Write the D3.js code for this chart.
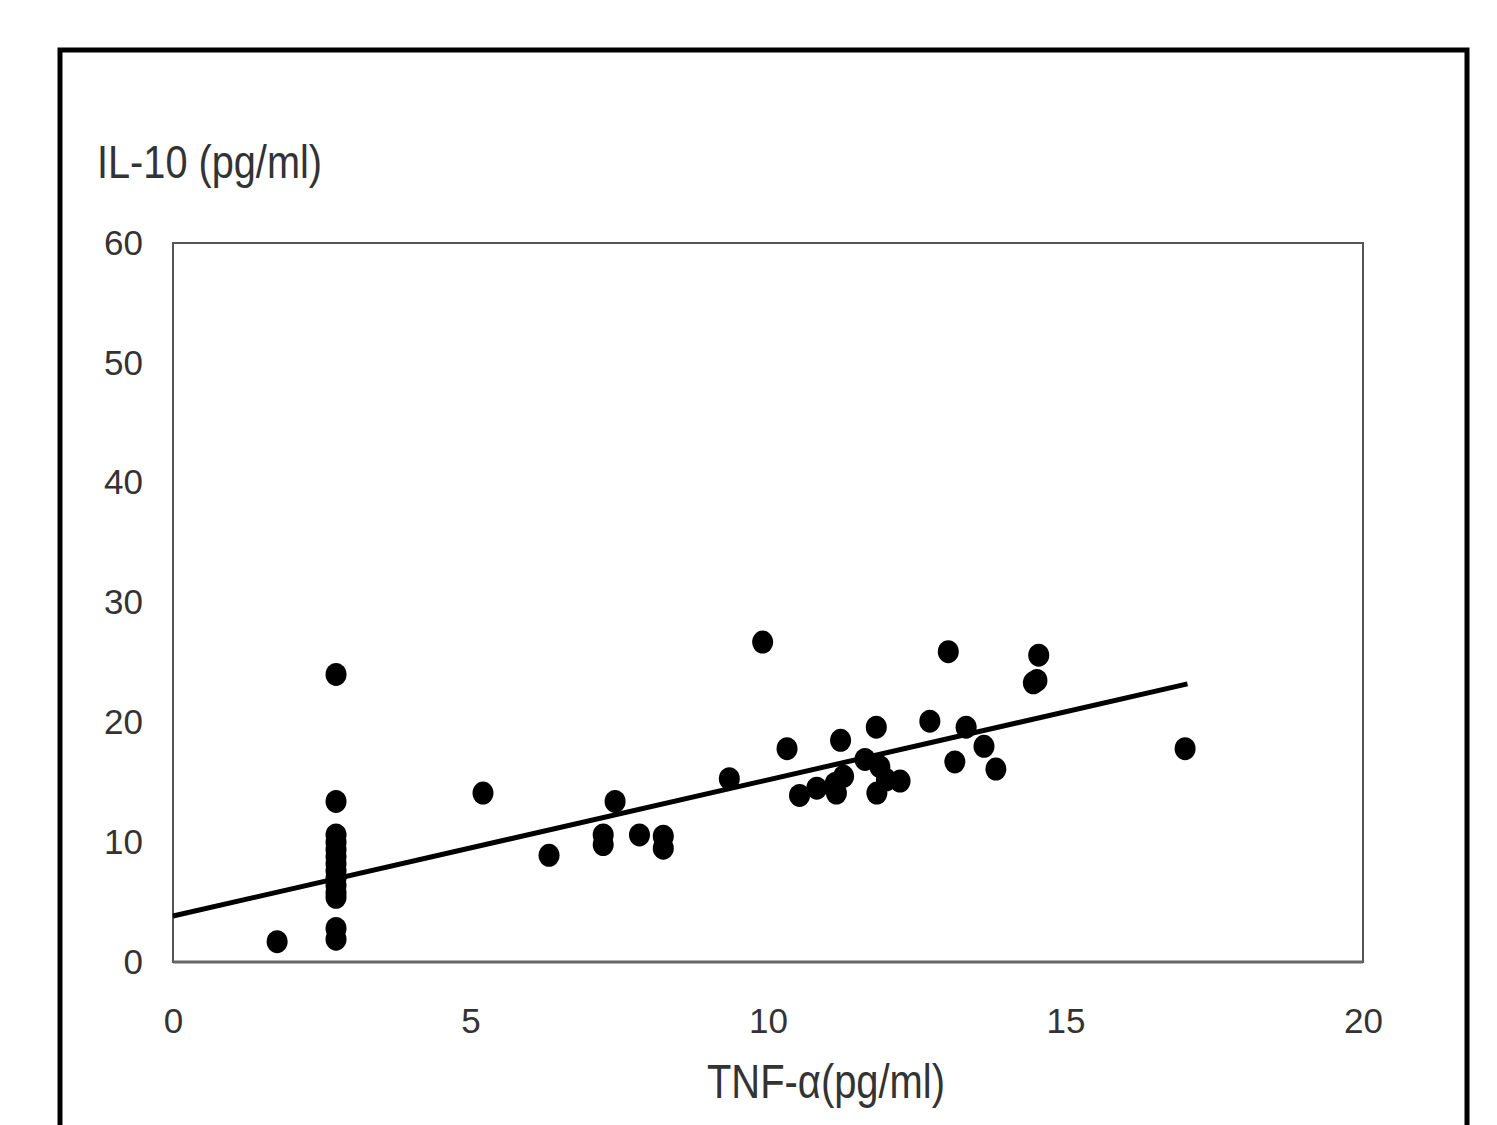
<!DOCTYPE html>
<html>
<head>
<meta charset="utf-8">
<script src="https://cdn.jsdelivr.net/npm/d3@7"></script>
<style>
  body { margin: 0; background: #fff; }
  text { font-family: "Liberation Sans", Arial, sans-serif; fill: #333; }
</style>
</head>
<body>
<div id="chart"></div>
<script>
// TNF-α values (x) and IL-10 values (y)
const tnf = [1.75, 2.74, 2.74, 2.74, 2.74, 2.74, 2.74, 2.74, 2.74, 2.74, 2.74, 2.74, 2.74, 2.74, 2.74,
  5.21, 6.32, 7.43, 7.23, 7.23, 7.84, 8.24, 8.24, 9.35,
  9.91, 10.32, 10.53, 10.82, 11.13, 11.15, 11.27, 11.22, 11.63, 11.82, 11.83, 11.88, 11.99, 12.22,
  12.72, 13.03, 13.14, 13.33, 13.63, 13.83, 14.46, 14.52, 14.55, 17.01];
const il10 = [1.7, 24.0, 13.4, 10.6, 10.0, 9.4, 8.8, 8.2, 7.6, 7.0, 6.4, 5.8, 5.4, 2.8, 1.9,
  14.1, 8.9, 13.4, 9.8, 10.6, 10.6, 9.5, 10.5, 15.3,
  26.7, 17.8, 13.9, 14.5, 14.9, 14.1, 15.5, 18.5, 16.9, 19.6, 14.1, 16.3, 15.2, 15.1,
  20.1, 25.9, 16.7, 19.6, 18.0, 16.1, 23.3, 23.5, 25.6, 17.8];

// trend line
const fitIntercept = 3.84;
const fitSlope = 1.136;
const fitRange = [0, 17.05];

const xTicks = [0, 5, 10, 15, 20];
const yTicks = [0, 10, 20, 30, 40, 50, 60];

let width = 1497, height = 1125;
let plotLeft = 173, plotRight = 1363, plotTop = 243, plotBottom = 962;

let svg = d3.select('#chart')
    .append('svg')
    .attr('width', width)
    .attr('height', height);

// outer frame
svg.append('rect')
    .attr('x', 60).attr('y', 50)
    .attr('width', 1407).attr('height', 1100)
    .attr('fill', 'none')
    .attr('stroke', '#000')
    .attr('stroke-width', 5);

let x = d3.scaleLinear().domain([0, 20]).range([plotLeft, plotRight]);
let y = d3.scaleLinear().domain([0, 60]).range([plotBottom, plotTop]);

// plot box
svg.append('rect')
    .attr('x', plotLeft).attr('y', plotTop)
    .attr('width', plotRight - plotLeft).attr('height', plotBottom - plotTop)
    .attr('fill', 'none')
    .attr('stroke', '#555')
    .attr('stroke-width', 2);

// axes (labels only)
let xAxis = svg.append('g')
    .attr('transform', `translate(0,${plotBottom})`)
    .call(d3.axisBottom(x).tickValues(xTicks).tickSize(0).tickPadding(46));
let yAxis = svg.append('g')
    .attr('transform', `translate(${plotLeft},0)`)
    .call(d3.axisLeft(y).tickValues(yTicks).tickSize(0).tickPadding(30));
[xAxis, yAxis].forEach(function (g) {
    g.select('.domain').remove();
    g.selectAll('text')
        .style('font-size', '35px')
        .attr('fill', '#333');
});
svg.append('line')
    .attr('x1', plotLeft).attr('x2', plotRight)
    .attr('y1', plotBottom).attr('y2', plotBottom)
    .attr('stroke', '#666').attr('stroke-width', 3);

// regression line
svg.append('line')
    .attr('x1', x(fitRange[0])).attr('y1', y(fitIntercept + fitSlope * fitRange[0]))
    .attr('x2', x(fitRange[1])).attr('y2', y(fitIntercept + fitSlope * fitRange[1]))
    .attr('stroke', '#000')
    .attr('stroke-width', 5);

// points (slightly tall, as in the scan)
svg.selectAll('ellipse.pt')
    .data(tnf)
    .enter()
    .append('ellipse')
    .attr('class', 'pt')
    .attr('cx', function (d) { return x(d); })
    .attr('cy', function (d, i) { return y(il10[i]); })
    .attr('rx', 10.5)
    .attr('ry', 11.5)
    .attr('fill', '#000');

// axis titles
svg.append('text')
    .attr('x', 97).attr('y', 178)
    .attr('textLength', 225)
    .attr('lengthAdjust', 'spacingAndGlyphs')
    .style('font-size', '46px')
    .text('IL-10 (pg/ml)');

svg.append('text')
    .attr('x', 707).attr('y', 1098)
    .attr('textLength', 238)
    .attr('lengthAdjust', 'spacingAndGlyphs')
    .style('font-size', '48px')
    .text('TNF-α(pg/ml)');
</script>
</body>
</html>
